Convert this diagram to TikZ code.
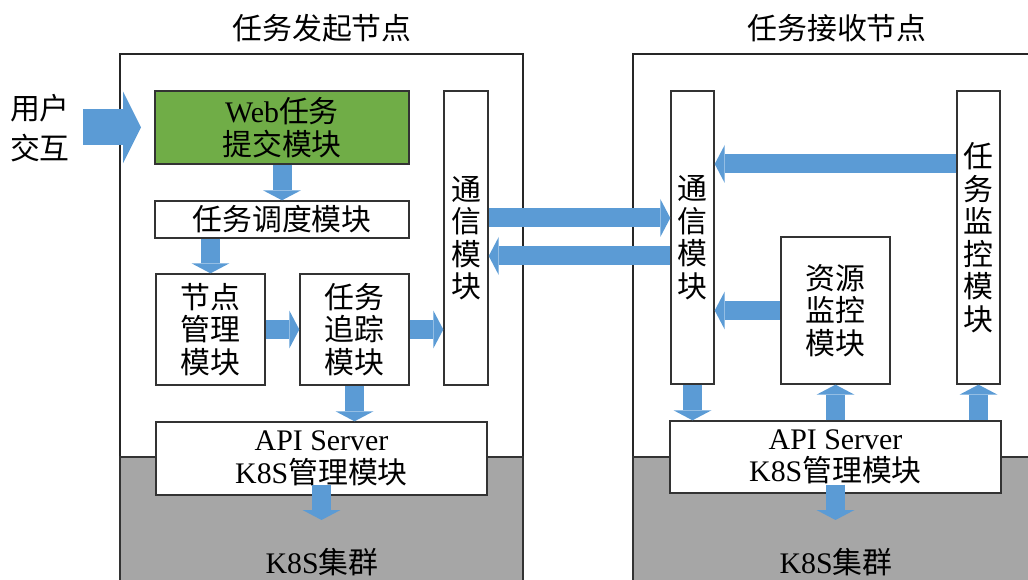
\documentclass[tikz,border=0pt]{standalone}
\usepackage{fontspec}
\setmainfont{Liberation Serif}
\newfontfamily\cjk{Noto Sans CJK SC}
\usetikzlibrary{arrows.meta, positioning, calc}
\usepackage{xcolor}
\definecolor{flowcolor}{RGB}{91, 155, 213}
\definecolor{webcolor}{RGB}{112, 173, 71}
\definecolor{clustercolor}{RGB}{166, 166, 166}

\begin{document}
\begin{tikzpicture}[x=0.02cm, y=-0.02cm,
    module/.style={rectangle, draw=black!80, line width=0.8pt, fill=#1,
                   inner sep=0pt, align=center, font=\fontsize{17pt}{18.5pt}\selectfont\cjk},
    module/.default=white,
    flow/.style={line width=0.38cm, flowcolor,
                 -{Triangle[width=0.76cm, length=0.2cm, line width=0pt]}},
    bigflow/.style={line width=0.72cm, flowcolor,
                    -{Triangle[width=1.44cm, length=0.36cm, line width=0pt]}},
    caption/.style={font=\fontsize{17pt}{18.5pt}\selectfont\cjk}
]
\useasboundingbox (0,0) rectangle (1028,580);
\clip (0,0) rectangle (1028,580);

% Host frames and K8S clusters
\draw[line width=0.8pt, draw=black!85] (120,54) rectangle (523,620);
\draw[line width=0.8pt, draw=black!85] (633,54) rectangle (1060,620);
\filldraw[fill=clustercolor, draw=black!80, line width=0.8pt] (120,457) rectangle (523,620);
\filldraw[fill=clustercolor, draw=black!80, line width=0.8pt] (633,457) rectangle (1060,620);

\node[caption] (srctitle) at (322,28) {任务发起节点};
\node[caption] (dsttitle) at (837,28) {任务接收节点};
\node[caption] (srcpoolname) at (322,562) {{\rmfamily K8S}集群};
\node[caption] (dstpoolname) at (836,562) {{\rmfamily K8S}集群};
\node[caption, align=center, font=\fontsize{17pt}{22.8pt}\selectfont\cjk] (user) at (40,128) {用户\\交互};

% Sending node
\node[module=webcolor, minimum width=5.08cm, minimum height=1.46cm] (web) at (282,127.5) {{\rmfamily Web}任务\\提交模块};
\node[module, minimum width=5.08cm, minimum height=0.74cm] (sched) at (282,219.5) {任务调度模块};
\node[module, minimum width=2.18cm, minimum height=2.22cm] (nodemgr) at (210.5,329.5) {节点\\管理\\模块};
\node[module, minimum width=2.18cm, minimum height=2.22cm] (track) at (354.5,329.5) {任务\\追踪\\模块};
\node[module, minimum width=0.88cm, minimum height=5.88cm] (commL) at (466,238) {通\\信\\模\\块};
\node[module, minimum width=6.62cm, minimum height=1.46cm] (apiL) at (321.5,458.5) {{\rmfamily API Server}\\{\rmfamily K8S}管理模块};

% Receiving node
\node[module, minimum width=0.86cm, minimum height=5.86cm] (commR) at (692.5,237.5) {通\\信\\模\\块};
\node[module, minimum width=2.18cm, minimum height=2.94cm] (res) at (835.5,310.5) {资源\\监控\\模块};
\node[module, minimum width=0.86cm, minimum height=5.86cm] (taskmon) at (978.5,237.5) {任\\务\\监\\控\\模\\块};
\node[module, minimum width=6.62cm, minimum height=1.44cm] (apiR) at (835.5,457) {{\rmfamily API Server}\\{\rmfamily K8S}管理模块};

% Free ends
\coordinate (userin) at (83,127.5);
\coordinate (userout) at (141,127.5);
\coordinate (srcpool) at (321.5,520);
\coordinate (dstpool) at (835.5,520);

% Connections
\draw[bigflow] (userin) -- (userout);
\foreach \a/\b in {web.south/sched.north, nodemgr.north |- sched.south/nodemgr.north,
                   nodemgr.east/track.west, track.east/track.east -| commL.west,
                   track.south/track.south |- apiL.north,
                   res.west/res.west -| commR.east, commR.south/commR.south |- apiR.north,
                   res.south |- apiR.north/res.south, taskmon.south |- apiR.north/taskmon.south}
    \draw[flow] (\a) -- (\b);
\draw[flow] ($(commL.east)+(0,-20)$) -- ($(commR.west |- commL.east)+(0,-20)$);
\draw[flow] ($(commR.west)+(0,18.5)$) -- ($(commL.east |- commR.west)+(0,18.5)$);
\draw[flow] ($(taskmon.west)+(0,-73.5)$) -- ($(commR.east |- taskmon.west)+(0,-73.5)$);
\draw[flow] ([yshift=0.22cm]apiL.south) -- (srcpool);
\draw[flow] ([yshift=0.18cm]apiR.south) -- (dstpool);

\end{tikzpicture}
\end{document}
